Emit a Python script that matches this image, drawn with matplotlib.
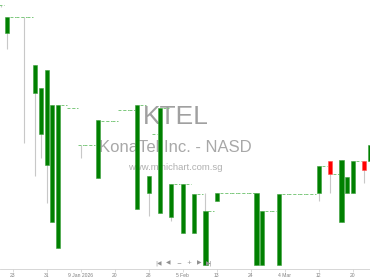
import matplotlib
matplotlib.use("Agg")
import matplotlib.pyplot as plt
import numpy as np

plt.rcParams["font.family"] = ["Liberation Sans", "DejaVu Sans"]

# daily OHLC, one entry per trading day (oldest first)
opens = [0.595, 0.567, 0.583, 0.583, 0.583, 0.583, 0.507, 0.466, 0.435, 0.378,
         0.352, 0.495, 0.492, 0.492, 0.455, 0.455, 0.455, 0.422, 0.479, 0.479,
         0.479, 0.490, 0.490, 0.490, 0.391, 0.495, 0.407, 0.466, 0.387, 0.492,
         0.383, 0.416, 0.367, 0.416, 0.367, 0.406, 0.335, 0.389, 0.399, 0.407,
         0.407, 0.407, 0.407, 0.407, 0.407, 0.335, 0.335, 0.389, 0.389, 0.335,
         0.406, 0.406, 0.406, 0.406, 0.406, 0.406, 0.407, 0.434, 0.439, 0.426,
         0.378, 0.407, 0.407, 0.439, 0.439, 0.439]
closes = [0.595, 0.583, 0.583, 0.583, 0.583, 0.583, 0.535, 0.512, 0.530, 0.495,
          0.495, 0.495, 0.492, 0.492, 0.455, 0.455, 0.455, 0.480, 0.479, 0.479,
          0.479, 0.490, 0.490, 0.490, 0.495, 0.495, 0.424, 0.466, 0.492, 0.492,
          0.416, 0.416, 0.416, 0.416, 0.406, 0.406, 0.389, 0.389, 0.407, 0.407,
          0.407, 0.407, 0.407, 0.407, 0.407, 0.407, 0.389, 0.389, 0.389, 0.406,
          0.406, 0.406, 0.406, 0.406, 0.406, 0.406, 0.434, 0.434, 0.426, 0.426,
          0.440, 0.423, 0.439, 0.439, 0.430, 0.455]
highs = [0.595, 0.583, 0.583, 0.583, 0.583, 0.583, 0.535, 0.512, 0.530, 0.495,
         0.495, 0.495, 0.492, 0.492, 0.455, 0.455, 0.455, 0.480, 0.479, 0.479,
         0.479, 0.490, 0.490, 0.490, 0.495, 0.495, 0.424, 0.466, 0.492, 0.492,
         0.416, 0.416, 0.416, 0.416, 0.406, 0.406, 0.407, 0.389, 0.407, 0.407,
         0.407, 0.407, 0.407, 0.407, 0.407, 0.407, 0.389, 0.389, 0.389, 0.406,
         0.406, 0.406, 0.406, 0.406, 0.406, 0.406, 0.434, 0.434, 0.439, 0.426,
         0.440, 0.423, 0.439, 0.439, 0.439, 0.455]
lows = [0.593, 0.551, 0.583, 0.583, 0.457, 0.583, 0.424, 0.442, 0.397, 0.378,
        0.352, 0.495, 0.492, 0.492, 0.442, 0.455, 0.455, 0.422, 0.479, 0.479,
        0.479, 0.490, 0.490, 0.490, 0.391, 0.495, 0.384, 0.466, 0.387, 0.492,
        0.379, 0.416, 0.367, 0.416, 0.367, 0.406, 0.335, 0.389, 0.399, 0.407,
        0.407, 0.407, 0.407, 0.407, 0.407, 0.335, 0.335, 0.389, 0.389, 0.335,
        0.406, 0.406, 0.406, 0.406, 0.406, 0.406, 0.399, 0.434, 0.407, 0.426,
        0.378, 0.407, 0.407, 0.439, 0.417, 0.439]

# bars that carry a date label on the x axis
label_bars = [2, 8, 14, 20, 26, 32, 38, 44, 50, 56, 62]
label_text = ["23", "31", "9 Jan 2026", "20", "28", "5 Feb", "13", "24",
              "4 Mar", "12", "20"]

UP = "#008000"
DOWN = "#ff0000"
WICK = "#c8c8c8"
FLAT = "#7cc87c"
WIDTH = 0.72

W, H = 370, 278
fig = plt.figure(figsize=(W / 100, H / 100), dpi=100)
ax = fig.add_axes([0, 9 / H, 1, 1 - 9 / H])

# watermark text behind the candles
fig.text(176 / W, 1 - 117 / H, "KTEL", fontsize=19, color="#a0a0a0",
         ha="center", va="center", zorder=0)
fig.text(175 / W, 1 - 148 / H, "KonaTel Inc. - NASD", fontsize=12,
         color="#a8a8a8", ha="center", va="center", zorder=0)
fig.text(175 / W, 1 - 167 / H, "www.minichart.com.sg", fontsize=6.8,
         color="#b0b0b0", ha="center", va="center", zorder=0)
ax.set_zorder(1)
ax.patch.set_alpha(0)

x = np.arange(len(opens))
for i in x:
    o, h, l, c = opens[i], highs[i], lows[i], closes[i]
    if h > l:
        ax.vlines(i, l, h, color=WICK, lw=0.8, zorder=1)
    if o == c:
        ax.hlines(c, i - 0.5, i + 0.5, color=FLAT, lw=0.7,
                  linestyles=(0, (3, 1.6)), zorder=2)
    else:
        col = UP if c > o else DOWN
        ax.bar(i, abs(c - o), bottom=min(o, c), width=WIDTH, color=col,
               edgecolor="#3aa03a" if c > o else "#ff5050", linewidth=0.4,
               zorder=3)

ax.set_xlim(-0.24, 65.02)
ax.set_ylim(0.331, 0.600)
ax.set_yticks([])
ax.set_xticks(label_bars)
ax.set_xticklabels(label_text, fontsize=3.6, color="#808080")
ax.tick_params(axis="x", length=2, width=0.4, color="#c0c0c0", pad=1.2)
for side in ["top", "left", "right"]:
    ax.spines[side].set_visible(False)
ax.spines["bottom"].set_color("#d0d0d0")
ax.spines["bottom"].set_linewidth(0.6)

# navigation buttons under the chart
buttons = ["|◀", "◀", "−", "+", "▶", "▶|"]
for k, b in enumerate(buttons):
    fig.text((158 + k * 10.2) / W, 1 - 263 / H, b, fontsize=4.2,
             color="#909090", ha="center", va="center",
             family=["DejaVu Sans"])

fig.savefig("out.png", dpi=100)
